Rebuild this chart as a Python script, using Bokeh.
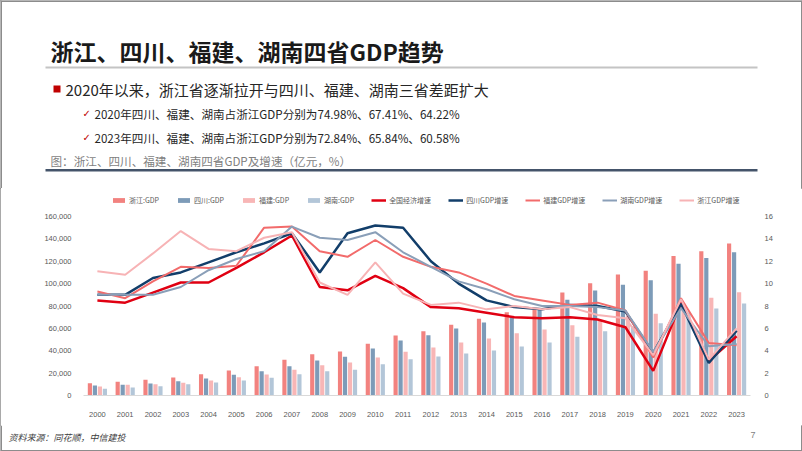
from bokeh.plotting import figure
from bokeh.models import (ColumnDataSource, FactorRange, Range1d, LinearAxis, FixedTicker,
                          NumeralTickFormatter, Legend, LegendItem, Label, BoxAnnotation)
from bokeh.layouts import column
from bokeh.transform import dodge
from bokeh.embed import file_html
from bokeh.resources import INLINE

# ---------------- data ----------------
years = [str(y) for y in range(2000, 2024)]

zj_gdp = [11000, 12200, 14000, 16100, 19000, 22300, 26200, 31900, 36900, 39300, 46200, 53600,
          57500, 63200, 68500, 74400, 78000, 92000, 100400, 108100, 111400, 124800, 129000, 135800]
sc_gdp = [8900, 9500, 10700, 12800, 15200, 18500, 21700, 26200, 31300, 34600, 42000, 49200,
          53900, 59900, 65200, 70600, 77100, 85500, 93800, 98900, 103100, 117700, 123000, 128100]
fj_gdp = [8000, 9500, 10100, 11300, 13400, 16400, 18800, 23000, 27100, 29500, 34000, 39000,
          42900, 47400, 50900, 55700, 59000, 62800, 67000, 71000, 73000, 82000, 87300, 92300]
hn_gdp = [6000, 7200, 8300, 10100, 11600, 13400, 15800, 19000, 21700, 23000, 28000, 32500,
          34900, 37500, 40200, 43800, 47400, 52500, 57500, 62000, 64600, 74400, 77700, 82200]

cn_growth = [8.5, 8.3, 9.2, 10.1, 10.1, 11.4, 12.8, 14.3, 9.7, 9.4, 10.7, 9.6,
             7.9, 7.8, 7.4, 7.0, 6.9, 7.0, 6.8, 6.1, 2.2, 8.3, 3.1, 5.3]
sc_growth = [9.0, 9.0, 10.5, 11.0, 11.9, 12.8, 13.6, 14.5, 11.0, 14.5, 15.2, 15.0,
             12.0, 10.0, 8.5, 7.9, 7.7, 8.1, 8.0, 7.5, 3.8, 8.2, 2.9, 5.8]
fj_growth = [9.3, 8.7, 10.2, 11.5, 11.4, 11.6, 15.0, 15.1, 12.9, 12.4, 13.9, 12.4,
             11.5, 11.0, 10.0, 8.9, 8.5, 8.1, 8.3, 7.6, 3.4, 8.7, 4.7, 4.5]
hn_growth = [9.0, 9.0, 9.0, 9.7, 11.2, 12.2, 12.9, 15.1, 14.1, 13.9, 14.6, 12.8,
             11.5, 10.2, 9.5, 8.6, 8.0, 8.0, 7.9, 7.6, 3.9, 7.8, 4.4, 4.6]
zj_growth = [11.1, 10.8, 12.7, 14.7, 13.1, 12.9, 14.1, 14.6, 10.1, 9.0, 11.9, 9.1,
             8.1, 8.3, 7.7, 8.0, 7.7, 7.9, 7.2, 6.9, 3.6, 8.6, 3.2, 6.0]

left_ticks = [0, 20000, 40000, 60000, 80000, 100000, 120000, 140000, 160000]
right_ticks = [0, 2, 4, 6, 8, 10, 12, 14, 16]

bar_labels = ["浙江:GDP", "四川:GDP", "福建:GDP", "湖南:GDP"]
line_labels = ["全国经济增速", "四川GDP增速", "福建GDP增速", "湖南GDP增速", "浙江GDP增速"]

title_text = "浙江、四川、福建、湖南四省GDP趋势"
bullet_text = "2020年以来，浙江省逐渐拉开与四川、福建、湖南三省差距扩大"
check_texts = ["2020年四川、福建、湖南占浙江GDP分别为74.98%、67.41%、64.22%",
               "2023年四川、福建、湖南占浙江GDP分别为72.84%、65.84%、60.58%"]
caption_text = "图：浙江、四川、福建、湖南四省GDP及增速（亿元，%）"
source_text = "资料来源：同花顺，中信建投"
page_no = "7"

# ---------------- styling ----------------
W = 802
HH, CH, FH = 188, 237, 26          # header / chart / footer heights
CJK = "Noto Sans CJK SC"
ax_font = "Liberation Sans"
bar_colors = ["#F2827F", "#7D9BB8", "#F8B6B6", "#B3C6D8"]
line_colors = ["#E00012", "#123E6A", "#F26B6B", "#8A9FB8", "#F7B3B5"]
line_widths = [2.5, 2.5, 2, 2, 2]
border_c = "#8C8C8C"


def blank(h):
    f = figure(width=W, height=h, x_range=Range1d(0, W), y_range=Range1d(h, 0),
               output_backend="svg", toolbar_location=None, min_border=0,
               x_axis_location=None, y_axis_location=None)
    f.frame_align = False
    f.grid.visible = False
    f.outline_line_color = None
    f.background_fill_color = "white"
    f.border_fill_color = "white"
    return f


def label(f, x, y, text, size, color, font=CJK, style="normal"):
    f.add_layout(Label(x=x, y=y, text=text, text_font=font, text_font_style=style,
                       text_font_size=size, text_color=color, text_baseline="middle"))


def box(f, l, r, t, b, color):
    f.add_layout(BoxAnnotation(left=l, right=r, top=t, bottom=b, fill_color=color,
                               fill_alpha=1, line_color=None))


# ---------------- header ----------------
hdr = blank(HH)
label(hdr, 50, 50, title_text, "23px", "#1A1A1A", style="bold")
box(hdr, 45, 757, 66, 68, "#C4C4C4")
box(hdr, 53, 60, 85, 92, "#C00000")
label(hdr, 65, 89, bullet_text, "15px", "#262626")
for i, t in enumerate(check_texts):
    yy = 113 + 24 * i
    label(hdr, 82, yy, "✓", "10px", "#C00000", font="DejaVu Sans")
    label(hdr, 94, yy, t, "11.6px", "#262626")
label(hdr, 50, 160, caption_text, "11.6px", "#7F7F7F")
box(hdr, 45, 757, 168.5, 171, "#44546A")
box(hdr, 0, 1.5, 0, HH, border_c)
box(hdr, W - 1.5, W, 0, HH, border_c)
box(hdr, 0, W, 0, 1.5, border_c)

# ---------------- chart ----------------
FL, FR = 83, 750
frame_h = 207
ymax_left = 160000 * frame_h / 179.0
ymax_right = 16 * frame_h / 179.0

src = ColumnDataSource(dict(year=years, zj=zj_gdp, sc=sc_gdp, fj=fj_gdp, hn=hn_gdp,
                            gcn=cn_growth, gsc=sc_growth, gfj=fj_growth, ghn=hn_growth,
                            gzj=zj_growth))

p = figure(width=W, height=CH, x_range=FactorRange(factors=years, range_padding=0),
           y_range=Range1d(0, ymax_left), output_backend="svg", toolbar_location=None,
           min_border_left=FL, min_border_right=W - FR, min_border_top=0,
           min_border_bottom=CH - frame_h)
p.frame_align = False
p.extra_y_ranges = {"pct": Range1d(0, ymax_right)}
p.grid.visible = False
p.outline_line_color = None
p.background_fill_color = "white"
p.border_fill_color = "white"

offsets = [-0.27, -0.09, 0.09, 0.27]
bar_renderers = []
for col, off, c in zip(["zj", "sc", "fj", "hn"], offsets, bar_colors):
    r = p.vbar(x=dodge("year", off, range=p.x_range), top=col, width=0.15, source=src,
               fill_color=c, line_color=None)
    bar_renderers.append(r)

line_renderers = []
for col, c, w in zip(["gcn", "gsc", "gfj", "ghn", "gzj"], line_colors, line_widths):
    r = p.line(x="year", y=col, source=src, line_color=c, line_width=w, y_range_name="pct")
    line_renderers.append(r)

ly = p.yaxis[0]
ly.ticker = FixedTicker(ticks=left_ticks)
ly.formatter = NumeralTickFormatter(format="0,0")
ry = LinearAxis(y_range_name="pct", ticker=FixedTicker(ticks=right_ticks))
p.add_layout(ry, "right")
for ax, so in ((ly, 6), (ry, 8)):
    ax.axis_line_color = None
    ax.major_tick_line_color = None
    ax.minor_tick_line_color = None
    ax.major_label_text_font = ax_font
    ax.major_label_text_font_size = "7.5px"
    ax.major_label_text_color = "#595959"
    ax.major_label_standoff = so
xa = p.xaxis[0]
xa.axis_line_color = "#D9D9D9"
xa.major_tick_line_color = None
xa.minor_tick_line_color = None
xa.major_label_text_font = ax_font
xa.major_label_text_font_size = "7.5px"
xa.major_label_text_color = "#595959"
xa.major_label_standoff = 10

items = [LegendItem(label=l, renderers=[r]) for l, r in zip(bar_labels, bar_renderers)]
items += [LegendItem(label=l, renderers=[r]) for l, r in zip(line_labels, line_renderers)]
legend = Legend(items=items, location=(28, 190), orientation="horizontal",
                glyph_width=15, glyph_height=6, label_height=8, label_width=10,
                label_standoff=3, spacing=17, padding=0, margin=0,
                label_text_font=CJK, label_text_font_size="7px", label_text_color="#595959",
                background_fill_alpha=0, border_line_alpha=0)
p.add_layout(legend)

# ---------------- footer ----------------
ftr = blank(FH)
label(ftr, 8, 12, source_text, "9px", "#404040", style="italic")
label(ftr, 750, 9, page_no, "9px", "#7F7F7F", font=ax_font)
box(ftr, 0, 1.5, 0, FH, border_c)
box(ftr, W - 1.5, W, 0, FH, border_c)
box(ftr, 0, W, FH - 1.5, FH, border_c)

layout = column(hdr, p, ftr, spacing=0,
                styles={"outline": "1.5px solid " + border_c, "outline-offset": "-1.5px"})
open("out.html", "w").write(file_html(layout, INLINE))
